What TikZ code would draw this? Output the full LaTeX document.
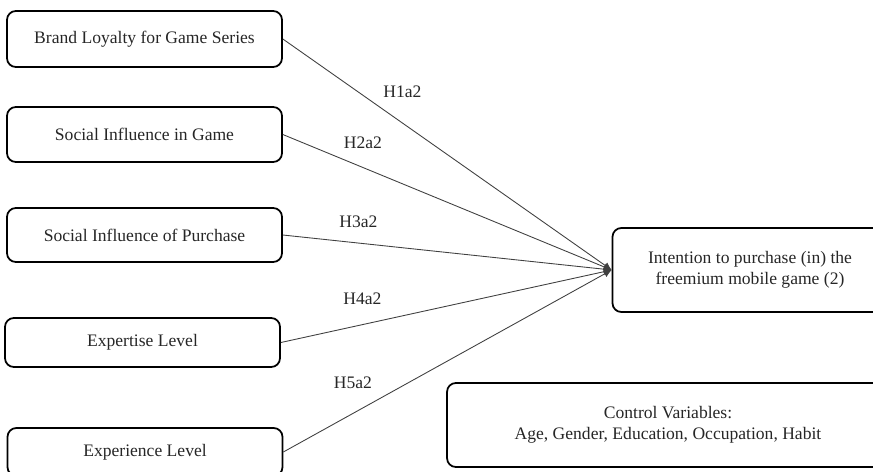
\documentclass[tikz,border=0pt]{standalone}
\usepackage{fontspec}
\setmainfont{Liberation Serif}
\usetikzlibrary{arrows.meta}

\begin{document}
\begin{tikzpicture}[x=0.02cm, y=-0.02cm,
    every node/.style={font=\fontsize{10}{12}\selectfont, text=black!85},
    factor/.style={draw, line width=1pt, rounded corners=5pt, minimum width=5.5cm, align=center, inner sep=0pt},
    hyp/.style={inner sep=0pt},
    link/.style={-{Latex[length=4.5pt,width=4.2pt]}, line width=0.5pt, draw=black!75}]
  \clip (0,0) rectangle (873,471);
  \node[factor, minimum height=1.12cm] (brand) at (144.5, 39) {Brand Loyalty for Game Series};
  \node[factor, minimum height=1.1cm] (social) at (144.5, 134.5) {Social Influence in Game};
  \node[factor, minimum height=1.08cm] (purchase) at (144.5, 235) {Social Influence of Purchase};
  \node[factor, minimum height=0.98cm] (expertise) at (142.5, 342.5) {Expertise Level};
  \node[factor, minimum height=0.96cm] (experience) at (145, 452) {Experience Level};
  \node[factor, minimum height=1.68cm] (intent) at (750, 270) {Intention to purchase (in) the\\freemium mobile game (2)};
  \node[factor, minimum height=1.68cm, minimum width=8.84cm] (control) at (668, 425) {Control Variables:\\Age, Gender, Education, Occupation, Habit};
  \node[hyp] (h1) at (402.5, 92) {H1a2};
  \node[hyp] (h2) at (363, 143) {H2a2};
  \node[hyp] (h3) at (358.5, 222) {H3a2};
  \node[hyp] (h4) at (362.5, 299) {H4a2};
  \node[hyp] (h5) at (353, 383) {H5a2};
  \draw[link] (brand.east) -- (intent.west);
  \draw[link] (social.east) -- (intent.west);
  \draw[link] (purchase.east) -- (intent.west);
  \draw[link] (expertise.east) -- (intent.west);
  \draw[link] (experience.east) -- (intent.west);
\end{tikzpicture}
\end{document}
